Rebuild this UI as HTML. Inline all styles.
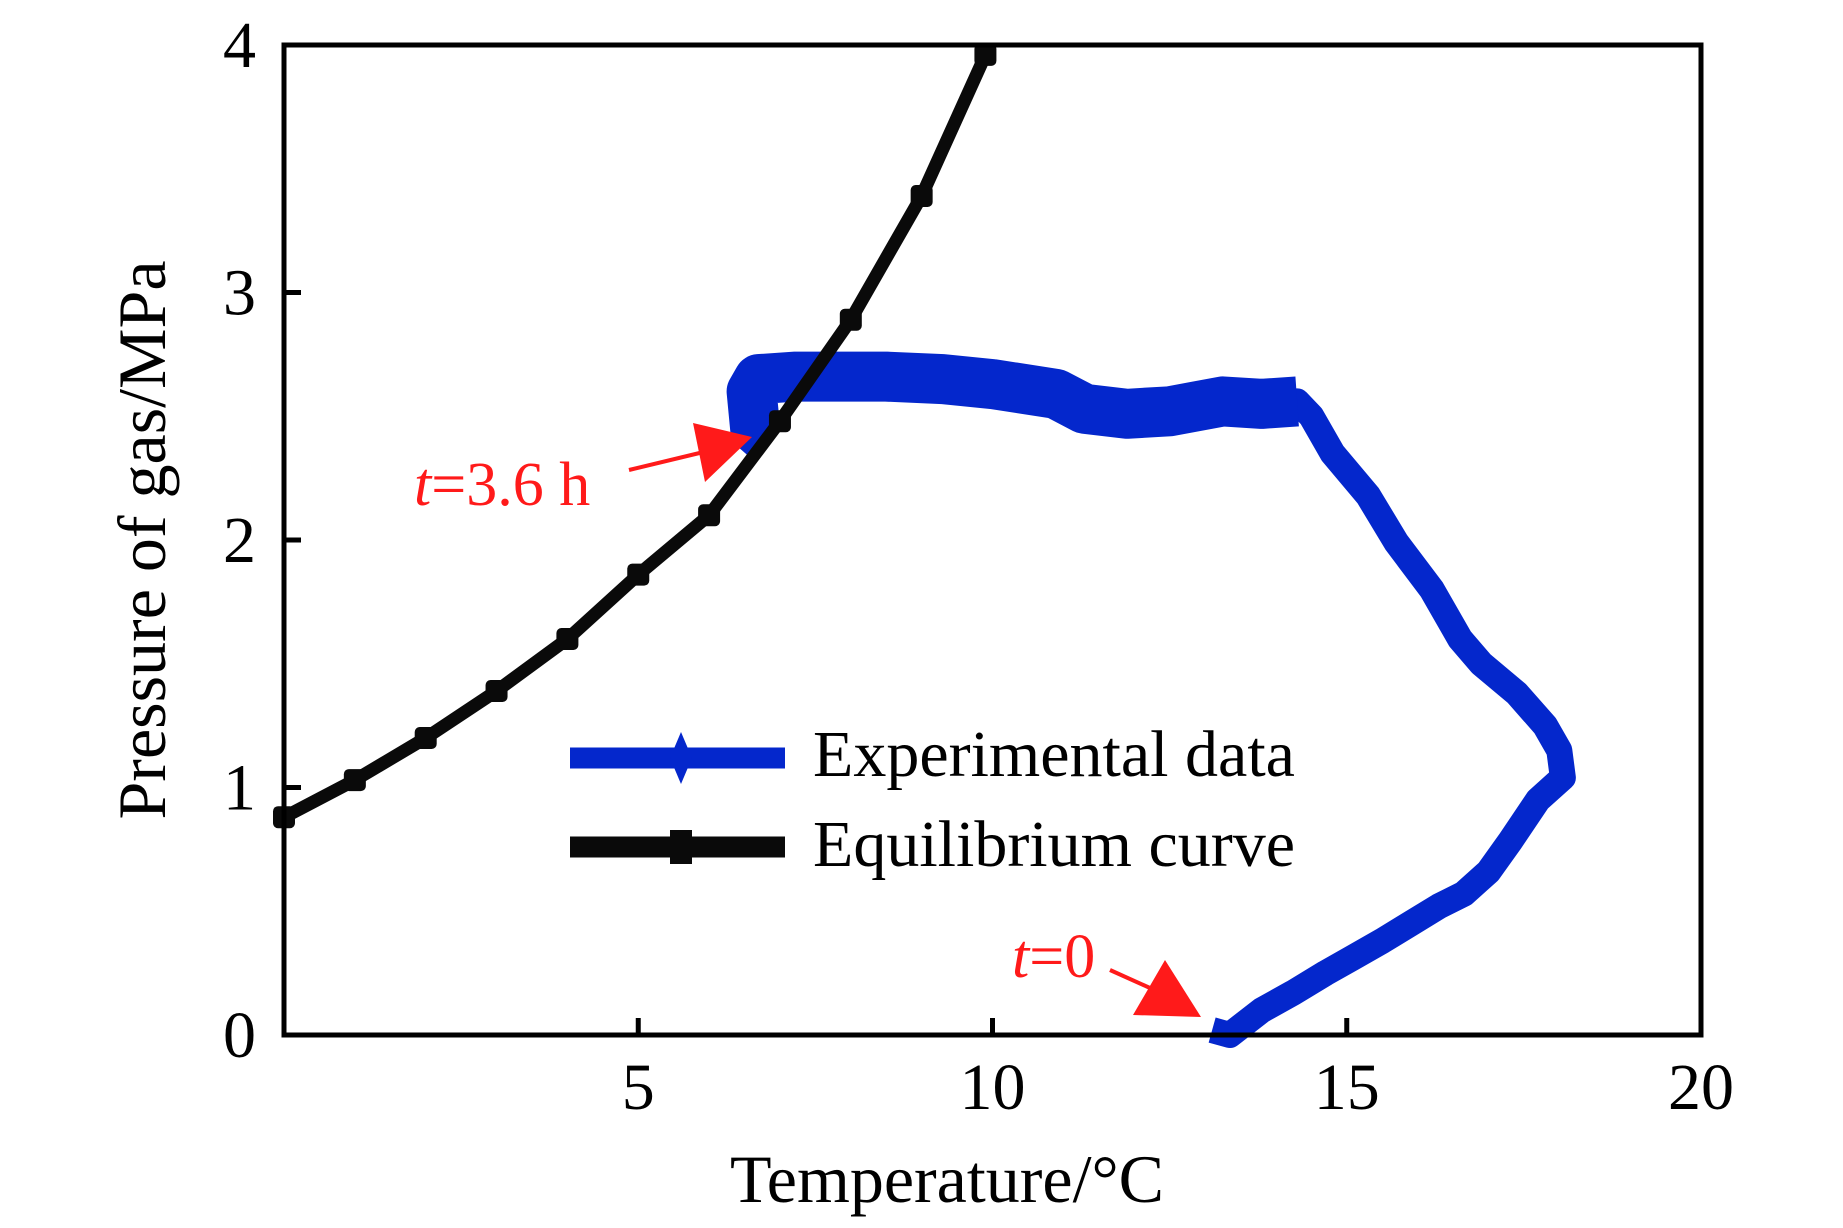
<!DOCTYPE html>
<html><head><meta charset="utf-8"><style>
html,body{margin:0;padding:0;background:#fff}
svg{display:block}
text{font-family:"Liberation Serif",serif}
</style></head><body>
<svg id="chart" width="1843" height="1228" viewBox="0 0 1843 1228" xmlns="http://www.w3.org/2000/svg">
<rect x="0" y="0" width="1843" height="1228" fill="#fff"/>
<g id="series"></g>
<rect x="284" y="45" width="1417" height="990" fill="none" stroke="#000" stroke-width="5"/>
<g id="axes"></g>
<text x="947" y="1202" font-size="68" text-anchor="middle">Temperature/°C</text>
<text transform="translate(165,540) rotate(-90)" font-size="68" text-anchor="middle">Pressure of gas/MPa</text>
<g>
<line x1="570" y1="758" x2="785" y2="758" stroke="#0427cc" stroke-width="21"/>
<polygon points="681,732 692,758 681,784 670,758" fill="#0427cc"/>
<text x="813" y="776" font-size="66">Experimental data</text>
<line x1="570" y1="847" x2="785" y2="847" stroke="#0a0a0a" stroke-width="21"/>
<rect x="670" y="830" width="22" height="34" fill="#0a0a0a"/>
<text x="813" y="866" font-size="66">Equilibrium curve</text>
</g>
<g>
<line x1="629" y1="470" x2="712" y2="450" stroke="#ff1a1a" stroke-width="4"/>
<polygon points="752,437 693,423 705,482" fill="#ff1a1a"/>
<text x="414" y="505" font-size="62" fill="#ff1a1a"><tspan font-style="italic">t</tspan>=3.6 h</text>
</g>
<g>
<line x1="1110" y1="970" x2="1150" y2="988" stroke="#ff1a1a" stroke-width="4"/>
<polygon points="1165,960 1133,1015 1201,1017" fill="#ff1a1a"/>
<text x="1012" y="977" font-size="62" fill="#ff1a1a"><tspan font-style="italic">t</tspan>=0</text>
</g>
</svg>
<script>
const eqT = [0,1,2,3,4,5,6,7,8,9,9.9];
const eqP = [0.88,1.03,1.2,1.39,1.6,1.86,2.1,2.48,2.89,3.39,3.96];
const expT = [13.1,13.35,13.8,14.24,14.7,15.07,15.5,15.9,16.3,16.65,17.0,17.3,17.7,18.05,18.0,17.8,17.4,16.9,16.6,16.2,15.7,15.3,14.8,14.5,14.3,13.8,13.25,12.5,11.9,11.3,10.9,10.0,9.3,8.5,7.9,7.2,6.7,6.6,6.65,6.85];
const expP = [0.02,0.0,0.1,0.17,0.25,0.31,0.38,0.45,0.52,0.57,0.66,0.78,0.95,1.04,1.15,1.25,1.38,1.5,1.6,1.8,1.99,2.18,2.35,2.5,2.56,2.55,2.56,2.52,2.51,2.53,2.59,2.63,2.65,2.66,2.66,2.66,2.65,2.6,2.45,2.4];
const xTicks = [5,10,15,20];
const yTicks = [0,1,2,3,4];
const NS = "http://www.w3.org/2000/svg";
const X0=284, X1=1701, Y0=1035, Y1=45;
function sx(t){return X0+(t-0)/20*(X1-X0);}
function sy(p){return Y0-(p-0)/4*(Y0-Y1);}
function mk(tag,attrs,parent){const e=document.createElementNS(NS,tag);for(const k in attrs)e.setAttribute(k,attrs[k]);parent.appendChild(e);return e;}
const series=document.getElementById('series');
const axes=document.getElementById('axes');
let pts=expT.map((t,i)=>sx(t)+','+sy(expP[i])).join(' ');
const expLine=mk('polyline',{points:pts,fill:'none',stroke:'#0427cc','stroke-width':26,'stroke-linejoin':'round'},series);


const plat=[];
expT.forEach((t,i)=>{if(expP[i]>2.38 && t<14.4) plat.push(sx(t)+','+sy(expP[i]));});
const platLine=mk('polyline',{points:plat.join(' '),fill:'none',stroke:'#0427cc','stroke-width':50,'stroke-linejoin':'round'},series);


pts=eqT.map((t,i)=>sx(t)+','+sy(eqP[i])).join(' ');
const eqLine=mk('polyline',{points:pts,fill:'none',stroke:'#0a0a0a','stroke-width':13,'stroke-linejoin':'round'},series);


eqT.forEach((t,i)=>{
  const m=mk('rect',{x:sx(t)-11,y:sy(eqP[i])-11,width:22,height:22,rx:5,fill:'#0a0a0a'},series);
  
  
});
xTicks.forEach(v=>{
  const l=mk('line',{x1:sx(v),y1:Y0,x2:sx(v),y2:Y0-17,stroke:'#000','stroke-width':5},axes);
  
  
  const tx=mk('text',{x:sx(v),y:1109,'font-size':66,'text-anchor':'middle'},axes);
  tx.textContent=v;
  
  
});
yTicks.forEach(v=>{
  const l=mk('line',{x1:X0,y1:sy(v),x2:X0+17,y2:sy(v),stroke:'#000','stroke-width':5},axes);
  
  
  const tx=mk('text',{x:256,y:sy(v)+22,'font-size':66,'text-anchor':'end'},axes);
  tx.textContent=v;
  
  
});
</script>
</body></html>
